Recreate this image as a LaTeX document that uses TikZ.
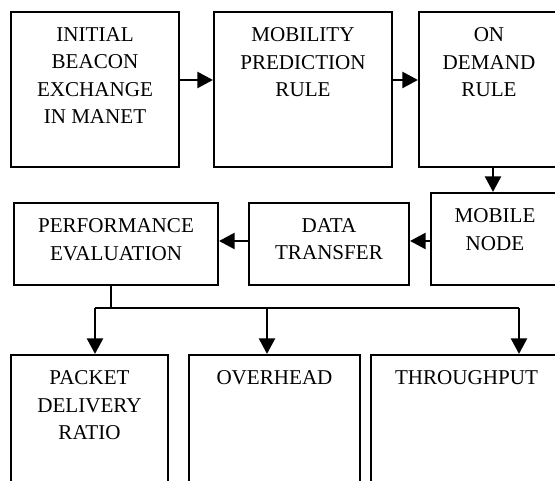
\documentclass[tikz,border=0pt]{standalone}
\usepackage{fontspec}
\setmainfont{Liberation Serif}
\usetikzlibrary{arrows.meta}

\tikzset{
  block/.style 2 args={draw, line width=1.2pt, inner sep=0pt,
    font=\fontsize{12}{15.4}\selectfont,
    execute at begin node={\begin{minipage}[t][#2][t]{#1}\centering\vspace*{0.32cm}},
    execute at end node={\end{minipage}}},
  link/.style={line width=1.2pt},
  flow/.style={line width=1.2pt, -{Triangle[length=0.31cm, width=0.32cm]}}
}

\begin{document}
\begin{tikzpicture}
\useasboundingbox (0,0) rectangle (11.1,9.62);
\clip (0,0) rectangle (11.1,9.62);

%%% first row
\node[block={3.36cm}{3.10cm}] (beacon) at (1.90, 7.83) {INITIAL\\BEACON\\EXCHANGE\\IN MANET};

\node[block={3.56cm}{3.10cm}] (predict) at (6.06, 7.83) {MOBILITY\\PREDICTION\\RULE};

\node[block={2.80cm}{3.10cm}] (demand) at (9.78, 7.83) {ON\\DEMAND\\RULE};

\draw[flow] ([yshift=0.19cm]beacon.east) -- ([yshift=0.19cm]beacon.east -| predict.west);
\draw[flow] ([yshift=0.19cm]predict.east) -- ([yshift=0.19cm]predict.east -| demand.west);

%%% second row
\node[block={2.56cm}{1.84cm}] (mobnode) at (9.90, 4.84) {MOBILE\\NODE};

\node[block={3.20cm}{1.64cm}] (transfer) at (6.58, 4.74) {DATA\\TRANSFER};

\node[block={4.08cm}{1.64cm}] (perf) at (2.32, 4.74) {PERFORMANCE\\EVALUATION};

\draw[flow] ([xshift=0.08cm]demand.south) -- ([xshift=0.08cm]demand.south |- mobnode.north);
\draw[flow] ([yshift=0.06cm]transfer.east -| mobnode.west) -- ([yshift=0.06cm]transfer.east);
\draw[flow] ([yshift=0.06cm]transfer.west) -- ([yshift=0.06cm]transfer.west -| perf.east);

%%% metrics
\node[block={3.14cm}{2.70cm}] (pdr) at (1.79, 1.17) {PACKET\\DELIVERY\\RATIO};

\node[block={3.42cm}{2.70cm}] (overhead) at (5.49, 1.17) {OVERHEAD};

\node[block={3.82cm}{2.70cm}] (through) at (9.33, 1.17) {THROUGHPUT};

\coordinate (bus) at (0, 3.46);

\draw[link] ([xshift=-0.10cm]perf.south) -- ([xshift=-0.10cm]perf.south |- bus);
\draw[link] ([xshift=0.11cm]pdr.north |- bus) -- ([xshift=1.05cm]through.north |- bus);

\draw[flow] ([xshift=0.11cm]pdr.north |- bus) -- ([xshift=0.11cm]pdr.north);
\draw[flow] ([xshift=-0.15cm]overhead.north |- bus) -- ([xshift=-0.15cm]overhead.north);
\draw[flow] ([xshift=1.05cm]through.north |- bus) -- ([xshift=1.05cm]through.north);

\end{tikzpicture}
\end{document}
